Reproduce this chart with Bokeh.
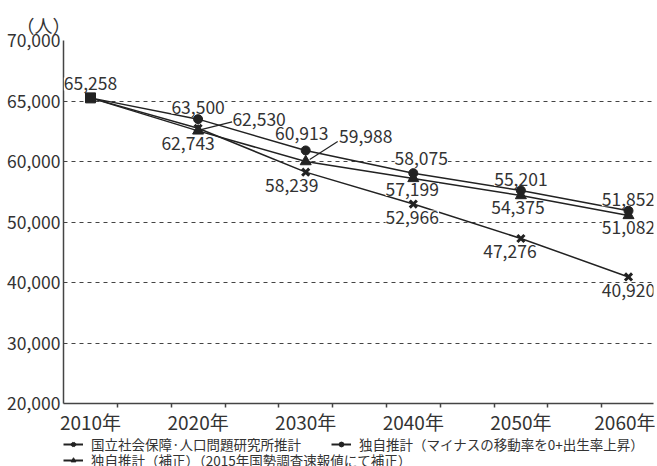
import numpy as np
from bokeh.plotting import figure
from bokeh.layouts import column
from bokeh.models import (ColumnDataSource, FixedTicker, LabelSet, Legend,
                          LegendItem, Range1d)
from bokeh.embed import file_html
from bokeh.resources import INLINE
from bokeh.core.properties import value

# ---------------- data ----------------
years = [2010, 2020, 2030, 2040, 2050, 2060]
x_labels = ["2010年", "2020年", "2030年", "2040年", "2050年", "2060年"]
ipss = [65258, 62743, 58239, 52966, 47276, 40920]        # 国立社会保障·人口問題研究所推計
own = [65258, 63500, 60913, 58075, 55201, 51852]         # 独自推計（移動率0+出生率上昇）
corrected = [65258, 62530, 59988, 57199, 54375, 51082]   # 独自推計（補正）
series_names = ["国立社会保障·人口問題研究所推計",
                "独自推計（マイナスの移動率を0+出生率上昇）",
                "独自推計（補正）（2015年国勢調査速報値にて補正）"]
y_tick_values = [20000, 30000, 40000, 50000, 60000, 65000, 70000]
y_tick_labels = ["20,000", "30,000", "40,000", "50,000", "60,000", "65,000", "70,000"]
y_unit = "（人）"

# ---------------- layout / style ----------------
FONT = "Noto Sans CJK JP"
TXT = "#333333"
INK = "#222222"
FRAME_W, FRAME_H = 590, 363
PX_YR = 10.76
X0 = 2010 - 27 / PX_YR
X1 = X0 + FRAME_W / PX_YR
N_SEG = len(y_tick_values) - 1
PX_U = FRAME_H / N_SEG
TOTAL_W = 655
LEG_H = 33

# label offsets in screen px (dx right, dy down) for points 2020..2060
off_ipss = [(-10, 15), (-14, 13), (-1, 13), (-11, 13), (0, 14)]
off_own = [(0, -12), (-4, -17), (8, -15), (0, -11), (0, -11)]
off_corr = [(61, -11), (60, -25), (-1, 11), (-3, 12), (0, 12)]
off_base = (0, -14)
# leader lines for corrected series (index, start dx,dy, end dx,dy) in px
leaders = [(1, 2, -1, 34, -9), (2, 4, -2, 32, -20)]


def ypos(v):
    return np.interp(np.asarray(v, dtype=float), y_tick_values, np.arange(len(y_tick_values)))


p = figure(frame_width=FRAME_W, frame_height=FRAME_H,
           x_range=Range1d(X0, X1), y_range=Range1d(0, N_SEG),
           output_backend="svg", toolbar_location=None,
           min_border_left=63, min_border_right=TOTAL_W - 63 - FRAME_W,
           min_border_top=40, min_border_bottom=30,
           title=y_unit)
p.outline_line_color = None
p.background_fill_color = "white"
p.border_fill_color = "white"
p.title.text_font = FONT
p.title.text_font_size = "18px"
p.title.text_font_style = "normal"
p.title.text_color = TXT
p.title.align = "left"
p.title.offset = -47
p.title.standoff = 6

# y axis
p.yaxis.ticker = FixedTicker(ticks=list(range(len(y_tick_values))))
p.yaxis.major_label_overrides = {i: lab for i, lab in enumerate(y_tick_labels)}
p.yaxis.major_tick_line_color = None
p.yaxis.major_tick_out = 0
p.yaxis.major_tick_in = 0
p.yaxis.minor_tick_line_color = None
p.yaxis.major_label_standoff = 3
p.yaxis.axis_line_color = "#444444"
p.yaxis.axis_line_width = 1.5
p.yaxis.major_label_text_font = FONT
p.yaxis.major_label_text_font_size = "17.5px"
p.yaxis.major_label_text_color = TXT

# x axis
p.xaxis.ticker = FixedTicker(ticks=years, minor_ticks=[2012.5 + 5 * i for i in range(10)])
p.xaxis.major_label_overrides = {y: lab for y, lab in zip(years, x_labels)}
p.xaxis.major_tick_line_color = None
p.xaxis.major_tick_out = 0
p.xaxis.major_tick_in = 0
p.xaxis.minor_tick_line_color = "#444444"
p.xaxis.minor_tick_line_width = 1.5
p.xaxis.minor_tick_out = 4
p.xaxis.minor_tick_in = 0
p.xaxis.major_label_standoff = 0
p.xaxis.axis_line_color = "#444444"
p.xaxis.axis_line_width = 1.5
p.xaxis.major_label_text_font = FONT
p.xaxis.major_label_text_font_size = "19px"
p.xaxis.major_label_text_color = TXT

# grid
p.xgrid.visible = False
p.ygrid.ticker = FixedTicker(ticks=list(range(1, N_SEG)))
p.ygrid.grid_line_dash = "4 4"
p.ygrid.grid_line_color = "#444444"
p.ygrid.grid_line_width = 1

# lines
yi, yo, yc = ypos(ipss), ypos(own), ypos(corrected)
p.line(years, yi, line_color=INK, line_width=1.5)
p.line(years, yo, line_color=INK, line_width=1.5)
p.line(years, yc, line_color=INK, line_width=1.5)

# labels
lab_x, lab_y, lab_t, lab_dx, lab_dy = [], [], [], [], []
lab_x.append(years[0]); lab_y.append(float(yi[0])); lab_t.append(f"{ipss[0]:,}")
lab_dx.append(off_base[0]); lab_dy.append(-off_base[1])
for vals, ys, offs in ((ipss, yi, off_ipss), (own, yo, off_own), (corrected, yc, off_corr)):
    for k in range(1, len(years)):
        lab_x.append(years[k]); lab_y.append(float(ys[k])); lab_t.append(f"{vals[k]:,}")
        lab_dx.append(offs[k - 1][0]); lab_dy.append(-offs[k - 1][1])
lsrc = ColumnDataSource(dict(x=lab_x, y=lab_y, text=lab_t, dx=lab_dx, dy=lab_dy))
labels = LabelSet(x="x", y="y", text="text", x_offset="dx", y_offset="dy", source=lsrc,
                  text_font=value(FONT), text_font_size="17.5px", text_color=TXT,
                  text_align="center", text_baseline="middle",
                  background_fill_color="white")
p.add_layout(labels)

# leader lines
sx0, sy0, sx1, sy1 = [], [], [], []
for k, ax, ay, bx, by in leaders:
    sx0.append(years[k] + ax / PX_YR); sy0.append(float(yc[k]) - ay / PX_U)
    sx1.append(years[k] + bx / PX_YR); sy1.append(float(yc[k]) - by / PX_U)
p.segment(sx0, sy0, sx1, sy1, line_color=INK, line_width=1.2, level="overlay")

# markers
MK = dict(
    ipss=dict(marker="x", size=10, line_color=INK, line_width=3),
    own=dict(marker="circle", size=9, fill_color=INK, line_color=INK),
    corr=dict(marker="triangle", size=11, fill_color=INK, line_color=INK),
)
p.scatter(years[1:], yi[1:], level="overlay", **MK["ipss"])
p.scatter(years[1:], yo[1:], level="overlay", **MK["own"])
p.scatter(years[1:], yc[1:], level="overlay", **MK["corr"])
p.scatter([years[0]], [float(yi[0])], marker="square", size=10, fill_color=INK,
          line_color=INK, level="overlay")

# ---------------- legend strip below the chart ----------------
lg = figure(width=TOTAL_W, height=LEG_H, x_range=Range1d(0, 1), y_range=Range1d(0, 1),
            output_backend="svg", toolbar_location=None,
            x_axis_location=None, y_axis_location=None,
            min_border_left=0, min_border_right=0, min_border_top=0, min_border_bottom=0)
lg.outline_line_color = None
lg.grid.visible = False
lg.border_fill_color = "white"
lg.background_fill_color = "white"
# same series, plotted out of the strip's view; they only feed the legend glyphs
g_ipss = [lg.line(years, yi, line_color=INK, line_width=2),
          lg.scatter(years[1:], yi[1:], **MK["ipss"])]
g_own = [lg.line(years, yo, line_color=INK, line_width=2),
         lg.scatter(years[1:], yo[1:], **MK["own"])]
g_corr = [lg.line(years, yc, line_color=INK, line_width=2),
          lg.scatter(years[1:], yc[1:], **MK["corr"])]


def make_legend(items, loc):
    return Legend(items=items, orientation="horizontal", location=loc,
                  label_text_font=FONT, label_text_font_size="13.5px", label_text_color=TXT,
                  glyph_width=20, glyph_height=12, label_height=12, label_standoff=8,
                  padding=0, margin=0, spacing=30, border_line_color=None,
                  background_fill_alpha=0)


lg.add_layout(make_legend([LegendItem(label=series_names[0], renderers=g_ipss),
                           LegendItem(label=series_names[1], renderers=g_own)], (0, 16)))
lg.add_layout(make_legend([LegendItem(label=series_names[2], renderers=g_corr)], (0, 0)))

layout = column(p, lg, spacing=0)
open("out.html", "w").write(file_html(layout, INLINE))
